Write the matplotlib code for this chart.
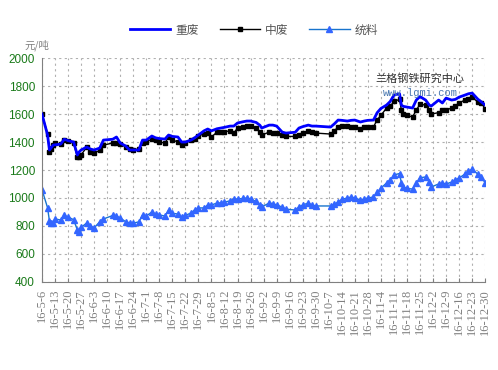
import numpy as np
import pandas as pd
import matplotlib
matplotlib.use("Agg")
import matplotlib.pyplot as plt

plt.rcParams['font.family'] = ['Noto Sans CJK SC', 'DejaVu Sans']

# dates (2016) and prices
dates = ["5-6", "5-9", "5-10", "5-11", "5-12", "5-13", "5-16", "5-18", "5-20",
         "5-23", "5-25", "5-26", "5-27", "5-30", "6-1", "6-3", "6-6", "6-8",
         "6-13", "6-15", "6-17", "6-20", "6-22", "6-24", "6-27", "6-29", "7-1",
         "7-4", "7-6", "7-8", "7-11", "7-13", "7-15", "7-18", "7-20", "7-22",
         "7-25", "7-27", "7-29", "8-1", "8-3", "8-5", "8-8", "8-10", "8-12",
         "8-15", "8-17", "8-19", "8-22", "8-24", "8-26", "8-29", "8-31", "9-1",
         "9-5", "9-7", "9-9", "9-12", "9-14", "9-19", "9-21", "9-23", "9-26",
         "9-28", "9-30", "10-8", "10-10", "10-12", "10-14", "10-17", "10-19",
         "10-21", "10-24", "10-26", "10-28", "10-31", "11-2", "11-4", "11-7",
         "11-9", "11-11", "11-14", "11-15", "11-16", "11-18", "11-21", "11-23",
         "11-25", "11-28", "11-30", "12-1", "12-5", "12-7", "12-9", "12-12",
         "12-14", "12-16", "12-19", "12-21", "12-23", "12-26", "12-28", "12-30"]

heavy = [1600, 1450, 1343, 1360, 1378, 1380, 1385, 1420, 1410,
         1400, 1307, 1330, 1343, 1364, 1350, 1343, 1357, 1414,
         1420, 1436, 1393, 1371, 1343, 1343, 1343, 1414, 1414,
         1443, 1430, 1425, 1421, 1450, 1440, 1436, 1400, 1400,
         1414, 1430, 1450, 1480, 1493, 1480, 1495, 1500, 1505,
         1514, 1514, 1536, 1545, 1550, 1550, 1540, 1520, 1500,
         1521, 1521, 1514, 1471, 1464, 1470, 1500, 1510, 1521,
         1514, 1514, 1507, 1530, 1557, 1555, 1550, 1555,
         1557, 1543, 1550, 1555, 1557, 1610, 1640, 1664,
         1690, 1735, 1745, 1664, 1655, 1650, 1643, 1700,
         1725, 1700, 1664, 1657, 1700, 1679, 1714, 1700,
         1705, 1721, 1735, 1745, 1750, 1707, 1686, 1664]

medium = [1600, 1460, 1330, 1350, 1380, 1393, 1385, 1415, 1407,
          1390, 1293, 1295, 1307, 1364, 1330, 1321, 1340, 1378,
          1393, 1390, 1385, 1365, 1350, 1343, 1350, 1393, 1400,
          1421, 1415, 1400, 1393, 1436, 1415, 1400, 1378, 1395,
          1414, 1425, 1443, 1460, 1464, 1436, 1471, 1471, 1475,
          1479, 1464, 1500, 1507, 1514, 1514, 1500, 1470, 1450,
          1471, 1468, 1464, 1450, 1440, 1440, 1450, 1465, 1479,
          1470, 1464, 1457, 1480, 1507, 1514, 1514, 1507,
          1507, 1493, 1505, 1507, 1507, 1560, 1590, 1643,
          1655, 1690, 1705, 1629, 1600, 1590, 1579, 1629,
          1670, 1664, 1630, 1600, 1610, 1629, 1629, 1643,
          1660, 1679, 1700, 1710, 1721, 1686, 1679, 1636]

general = [1060, 930, 836, 821, 821, 850, 843, 875, 864,
           845, 771, 757, 790, 821, 800, 786, 830, 850,
           875, 870, 857, 830, 822, 821, 829, 879, 871,
           900, 885, 879, 871, 914, 890, 886, 864, 875,
           893, 915, 929, 929, 950, 950, 964, 965, 970,
           980, 993, 993, 997, 1000, 993, 975, 950, 936,
           964, 960, 950, 935, 920, 914, 936, 950, 964,
           950, 943, 943, 955, 971, 990, 1000, 1007,
           1000, 986, 993, 1000, 1007, 1040, 1070, 1107,
           1130, 1165, 1175, 1107, 1080, 1068, 1064, 1107,
           1145, 1150, 1114, 1079, 1100, 1107, 1100, 1114,
           1130, 1143, 1170, 1190, 1207, 1171, 1150, 1107]

tick_labels = ["16-5-6", "16-5-13", "16-5-20", "16-5-27", "16-6-3", "16-6-10",
               "16-6-17", "16-6-24", "16-7-1", "16-7-8", "16-7-15", "16-7-22",
               "16-7-29", "16-8-5", "16-8-12", "16-8-19", "16-8-26", "16-9-2",
               "16-9-9", "16-9-16", "16-9-23", "16-9-30", "16-10-7", "16-10-14",
               "16-10-21", "16-10-28", "16-11-4", "16-11-11", "16-11-18",
               "16-11-25", "16-12-2", "16-12-9", "16-12-16", "16-12-23",
               "16-12-30"]

x = pd.to_datetime(["2016-" + d for d in dates])
ticks = pd.to_datetime(["20" + t for t in tick_labels])

fig = plt.figure(figsize=(4.98, 3.70), dpi=100)
ax = fig.add_axes([0.0843, 0.238, 0.890, 0.605])

ax.plot(x, heavy, color="#0000FF", linewidth=2.0, label="重废", zorder=3)
ax.plot(x, medium, color="black", linewidth=1.0, marker="s", markersize=2.5,
        label="中废", zorder=2)
ax.plot(x, general, color="#1874CD", linewidth=1.0, marker="^", markersize=4,
        markerfacecolor="#3366FF", markeredgecolor="#3366FF", label="统料", zorder=2)

ax.set_xlim(ticks[0], ticks[-1])
ax.set_ylim(400, 2000)
ax.set_yticks(np.arange(400, 2001, 200))
ax.set_xticks(ticks)
ax.set_xticklabels(tick_labels, rotation=90, fontsize=9, color="#808080",
                   family=["Liberation Serif", "DejaVu Sans"])
for lab in ax.get_yticklabels():
    lab.set_color("#1a7a1a")
    lab.set_fontsize(8.5)
    lab.set_family(["Liberation Sans", "DejaVu Sans"])

ax.grid(True, color="#b0b0b0", linestyle=(0, (2, 3)), linewidth=0.8)
ax.spines['top'].set_visible(False)
ax.spines['right'].set_visible(False)
ax.spines['left'].set_color("#808080")
ax.spines['bottom'].set_color("#808080")
ax.tick_params(axis='x', direction='in', length=3, color="#808080", pad=5)
ax.tick_params(axis='y', length=0, pad=5)

fig.text(0.05, 0.862, "元/吨", fontsize=7.5, color="#808080", ha="left", va="bottom")

ax.text(0.853, 0.895, "兰格钢铁研究中心", transform=ax.transAxes, fontsize=8,
        color="#333333", ha="center")
ax.text(0.853, 0.83, "www.lgmi.com", transform=ax.transAxes, fontsize=7.5,
        color="#4A78B0", ha="center", family=["Liberation Mono", "DejaVu Sans Mono"])

fig.legend(loc="upper center", bbox_to_anchor=(0.51, 0.965), ncol=3, frameon=False,
           fontsize=8.5, handlelength=3.4, handletextpad=0.4, columnspacing=1.8,
           labelcolor="#555555")

fig.savefig("out.png", dpi=100)
